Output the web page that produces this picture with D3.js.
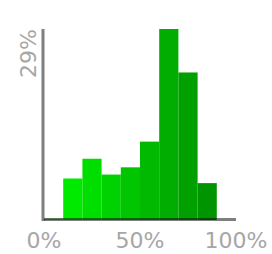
<!DOCTYPE html>
<html>
<head>
<meta charset="utf-8">
<script src="https://cdn.jsdelivr.net/npm/d3@7"></script>
<style>
  body { margin: 0; background: #fff; }
  text { font-family: "DejaVu Sans", Verdana, sans-serif; fill: #a6a6a6; }
</style>
</head>
<body>
<svg id="chart" width="272" height="254"></svg>
<script>
// histogram bins, 10% wide each
const binStarts = [0, 10, 20, 30, 40, 50, 60, 70, 80, 90]
const shares = [0.2, 6.3, 9.3, 6.9, 8.0, 11.9, 29, 22.4, 5.6, 0]
const xTicks = [0, 50, 100]
const yMax = 29

const svg = d3.select('#chart')

const x = d3.scaleLinear().domain([0, 100]).range([44, 236])
const y = d3.scaleLinear().domain([0, yMax]).range([220, 29])

const colour = d3.interpolateRgb('#00ea00', '#009400')

svg.selectAll('.bar')
  .data(binStarts)
  .join('rect')
    .attr('class', 'bar')
    .attr('x', d => x(d))
    .attr('width', d => x(d + 10) - x(d))
    .attr('y', (d, i) => y(shares[i]))
    .attr('height', (d, i) => y(0) - y(shares[i]))
    .attr('fill', (d, i) => colour((i - 1) / 7))

// axes: half transparent black, so they darken the bars they cross
svg.append('line')
  .attr('x1', x(0)).attr('x2', x(100))
  .attr('y1', y(0) - 0.5).attr('y2', y(0) - 0.5)
  .attr('stroke', 'rgba(0,0,0,0.5)').attr('stroke-width', 3)
svg.append('line')
  .attr('x1', x(0) - 1).attr('x2', x(0) - 1)
  .attr('y1', y(yMax)).attr('y2', y(0) + 1)
  .attr('stroke', 'rgba(0,0,0,0.5)').attr('stroke-width', 3)

svg.selectAll('.xlab')
  .data(xTicks)
  .join('text')
    .attr('class', 'xlab')
    .attr('x', d => x(d))
    .attr('y', 248)
    .attr('text-anchor', 'middle')
    .attr('font-size', 22)
    .text(d => d + '%')

svg.append('text')
  .attr('transform', `translate(36,${y(yMax)}) rotate(-90)`)
  .attr('text-anchor', 'end')
  .attr('font-size', 22)
  .text(yMax + '%')
</script>
</body>
</html>
